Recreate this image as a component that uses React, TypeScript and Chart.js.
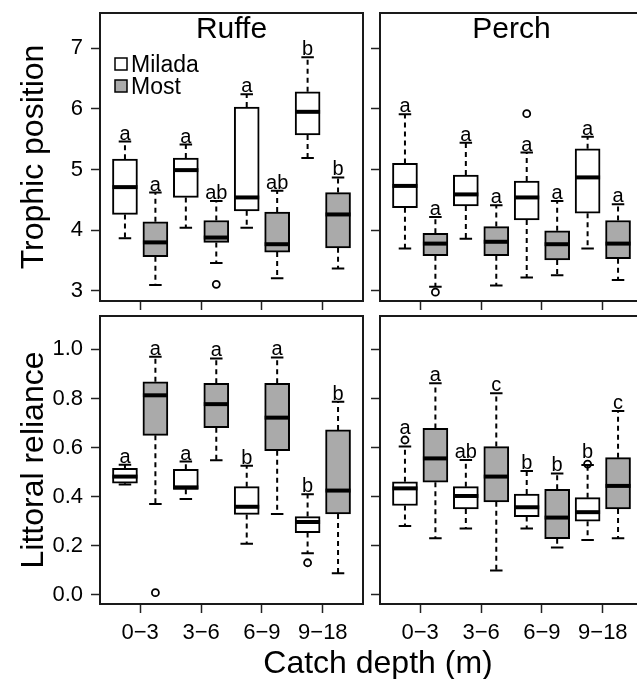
import React, { useEffect, useRef } from 'react';
import { Chart, registerables } from 'chart.js';

Chart.register(...registerables);

const FONT = "'Liberation Sans', Arial, Helvetica, sans-serif";
Chart.defaults.font.family = FONT;

// ---------- categories / ticks ----------
const depthLabels = ['0−3', '3−6', '6−9', '9−18'];
const lakeNames = ['Milada', 'Most'];
const miladaPositions = [1, 3, 5, 7];
const mostPositions = [2, 4, 6, 8];
const depthTickPositions = [1.5, 3.5, 5.5, 7.5];
const xRange = [0.18, 8.82];

const trophicTicks = [3, 4, 5, 6, 7];
const trophicRange = [2.835, 7.577];
const littoralTicks = [0, 0.2, 0.4, 0.6, 0.8, 1.0];
const littoralRange = [-0.037, 1.136];

// ---------- data: [lower whisker, Q1, median, Q3, upper whisker] ----------
// Ruffe – trophic position
const ruffeTrophicMilada = [[3.87, 4.26, 4.71, 5.17, 5.46], [4.04, 4.54, 4.99, 5.19, 5.41], [4.04, 4.32, 4.54, 6.03, 6.24], [5.19, 5.57, 5.95, 6.28, 6.85]];
const ruffeTrophicMost = [[3.10, 3.565, 3.80, 4.14, 4.62], [3.46, 3.80, 3.88, 4.16, 4.48], [3.21, 3.64, 3.77, 4.30, 4.65], [3.37, 3.71, 4.26, 4.62, 4.87]];
const ruffeTrophicMiladaOut = [[], [], [], []];
const ruffeTrophicMostOut = [[], [3.11], [], []];
const ruffeTrophicMiladaLetters = ['a', 'a', 'a', 'b'];
const ruffeTrophicMostLetters = ['a', 'ab', 'ab', 'b'];

// Perch – trophic position
const perchTrophicMilada = [[3.70, 4.37, 4.73, 5.10, 5.91], [3.86, 4.40, 4.59, 4.91, 5.44], [3.22, 4.17, 4.54, 4.81, 5.28], [3.70, 4.28, 4.87, 5.34, 5.54]];
const perchTrophicMost = [[3.07, 3.58, 3.78, 3.95, 4.22], [3.09, 3.58, 3.81, 4.06, 4.41], [3.26, 3.51, 3.77, 3.99, 4.48], [3.18, 3.53, 3.78, 4.16, 4.43]];
const perchTrophicMiladaOut = [[], [], [5.92], []];
const perchTrophicMostOut = [[2.98], [], [], []];
const perchTrophicMiladaLetters = ['a', 'a', 'a', 'a'];
const perchTrophicMostLetters = ['a', 'a', 'a', 'a'];

// Ruffe – littoral reliance
const ruffeLittoralMilada = [[0.45, 0.455, 0.482, 0.516, 0.53], [0.391, 0.430, 0.438, 0.512, 0.543], [0.208, 0.328, 0.359, 0.441, 0.526], [0.170, 0.254, 0.297, 0.319, 0.410]];
const ruffeLittoralMost = [[0.370, 0.650, 0.813, 0.868, 0.970], [0.548, 0.681, 0.777, 0.862, 0.963], [0.330, 0.587, 0.722, 0.862, 0.967], [0.088, 0.330, 0.425, 0.672, 0.787]];
const ruffeLittoralMiladaOut = [[], [], [], [0.131]];
const ruffeLittoralMostOut = [[0.009], [], [], []];
const ruffeLittoralMiladaLetters = ['a', 'a', 'b', 'b'];
const ruffeLittoralMostLetters = ['a', 'a', 'a', 'b'];

// Perch – littoral reliance
const perchLittoralMilada = [[0.281, 0.364, 0.434, 0.461, 0.604], [0.271, 0.350, 0.403, 0.441, 0.549], [0.271, 0.319, 0.357, 0.411, 0.505], [0.224, 0.300, 0.337, 0.396, 0.529]];
const perchLittoralMost = [[0.231, 0.459, 0.556, 0.678, 0.862], [0.099, 0.379, 0.482, 0.604, 0.821], [0.193, 0.229, 0.315, 0.430, 0.495], [0.231, 0.350, 0.444, 0.559, 0.749]];
const perchLittoralMiladaOut = [[0.631], [], [], [0.533]];
const perchLittoralMostOut = [[], [], [], []];
const perchLittoralMiladaLetters = ['a', 'ab', 'b', 'b'];
const perchLittoralMostLetters = ['a', 'c', 'b', 'c'];

const MILADA_FILL = '#ffffff';
const MOST_FILL = '#aaaaaa';
const INK = '#000000';

type PanelProps = {
  left: number; top: number; width: number; height: number;
  padTop: number; padRight: number; yWidth: number; xHeight: number;
  yRange: number[]; yTicks: number[]; yDecimals: number;
  showYLabels: boolean; yTitle?: string; showXLabels: boolean;
  title: string; legend: boolean;
  milada: number[][]; most: number[][];
  miladaOut: number[][]; mostOut: number[][];
  miladaLetters: string[]; mostLetters: string[];
};

function Panel(p: PanelProps) {
  const ref = useRef<HTMLCanvasElement>(null);
  useEffect(() => {
    const canvas = ref.current as HTMLCanvasElement;
    const extras = {
      id: 'boxExtras',
      afterDatasetsDraw(chart: any) {
        const { ctx } = chart;
        const x = chart.scales.x;
        const y = chart.scales.y;
        const span = y.max - y.min;
        const groups = [
          { stats: p.milada, out: p.miladaOut, letters: p.miladaLetters, pos: miladaPositions, meta: chart.getDatasetMeta(0) },
          { stats: p.most, out: p.mostOut, letters: p.mostLetters, pos: mostPositions, meta: chart.getDatasetMeta(1) },
        ];
        ctx.save();
        ctx.strokeStyle = INK;
        ctx.fillStyle = INK;
        groups.forEach((g) => {
          g.stats.forEach((s, i) => {
            const px = x.getPixelForValue(g.pos[i]);
            const half = g.meta.data[i].width / 2;
            const [lo, q1, med, q3, hi] = s;
            const yLo = y.getPixelForValue(lo);
            const yQ1 = y.getPixelForValue(q1);
            const yMed = y.getPixelForValue(med);
            const yQ3 = y.getPixelForValue(q3);
            const yHi = y.getPixelForValue(hi);
            // whiskers
            ctx.lineWidth = 2;
            ctx.setLineDash([5, 4]);
            ctx.beginPath();
            ctx.moveTo(px, yQ3); ctx.lineTo(px, yHi);
            ctx.moveTo(px, yQ1); ctx.lineTo(px, yLo);
            ctx.stroke();
            ctx.setLineDash([]);
            // caps
            ctx.beginPath();
            ctx.moveTo(px - half / 2, yHi); ctx.lineTo(px + half / 2, yHi);
            ctx.moveTo(px - half / 2, yLo); ctx.lineTo(px + half / 2, yLo);
            ctx.stroke();
            // median
            ctx.lineWidth = 4;
            ctx.beginPath();
            ctx.moveTo(px - half, yMed); ctx.lineTo(px + half, yMed);
            ctx.stroke();
            // outliers
            ctx.lineWidth = 1.8;
            g.out[i].forEach((v) => {
              ctx.beginPath();
              ctx.arc(px, y.getPixelForValue(v), 3.5, 0, Math.PI * 2);
              ctx.stroke();
            });
            // significance letter
            let anchor = hi;
            let nearOut = false;
            g.out[i].forEach((v) => {
              if (v > anchor && v - hi < 0.07 * span) { anchor = v; nearOut = true; }
            });
            ctx.font = `20px ${FONT}`;
            ctx.textAlign = 'center';
            ctx.textBaseline = 'alphabetic';
            ctx.fillText(g.letters[i], px, y.getPixelForValue(anchor) - (nearOut ? 6 : 2));
          });
        });
        ctx.restore();
      },
      afterDraw(chart: any) {
        const { ctx, chartArea } = chart;
        ctx.save();
        ctx.strokeStyle = '#1a1a1a';
        ctx.lineWidth = 2;
        ctx.strokeRect(chartArea.left, chartArea.top, chartArea.right - chartArea.left, chartArea.bottom - chartArea.top);
        ctx.fillStyle = INK;
        ctx.font = `30px ${FONT}`;
        ctx.textAlign = 'center';
        ctx.textBaseline = 'alphabetic';
        ctx.fillText(p.title, (chartArea.left + chartArea.right) / 2, chartArea.top + 25);
        if (p.legend) {
          const fills = [MILADA_FILL, MOST_FILL];
          ctx.font = `23px ${FONT}`;
          ctx.textAlign = 'left';
          lakeNames.forEach((name, k) => {
            const lx = chartArea.left + 15;
            const ly = chartArea.top + 45 + k * 22;
            ctx.fillStyle = fills[k];
            ctx.fillRect(lx, ly, 12, 12);
            ctx.strokeStyle = INK;
            ctx.lineWidth = 1.5;
            ctx.strokeRect(lx, ly, 12, 12);
            ctx.fillStyle = INK;
            ctx.fillText(name, lx + 16, ly + 14);
          });
        }
        ctx.restore();
      },
    };

    const gridCfg = { offset: false, drawOnChartArea: false, drawTicks: true, tickLength: 9, tickColor: '#222', tickWidth: 1.5 };
    const noPad = (s: any) => { s.paddingTop = 0; s.paddingBottom = 0; s.paddingLeft = 0; s.paddingRight = 0; };

    const chart = new Chart(canvas, {
      type: 'bar',
      data: {
        datasets: [
          {
            label: lakeNames[0],
            data: p.milada.map((s, i) => ({ x: miladaPositions[i], y: [s[1], s[3]] })) as any,
            backgroundColor: MILADA_FILL, borderColor: INK, borderWidth: 2, borderSkipped: false,
            grouped: false, barThickness: 25,
          },
          {
            label: lakeNames[1],
            data: p.most.map((s, i) => ({ x: mostPositions[i], y: [s[1], s[3]] })) as any,
            backgroundColor: MOST_FILL, borderColor: INK, borderWidth: 2, borderSkipped: false,
            grouped: false, barThickness: 25,
          },
        ],
      },
      options: {
        responsive: false,
        animation: false,
        layout: { padding: { top: p.padTop, right: p.padRight, left: 0, bottom: 0 } },
        plugins: { legend: { display: false }, tooltip: { enabled: false }, title: { display: false } },
        scales: {
          x: {
            type: 'linear', min: xRange[0], max: xRange[1], offset: false,
            grid: gridCfg as any, border: { display: false },
            ticks: {
              display: p.showXLabels, autoSkip: false, maxRotation: 0, minRotation: 0, padding: 7,
              color: INK, font: { size: 22 },
              callback: (_v: any, i: number) => depthLabels[i],
            },
            afterBuildTicks: (s: any) => { s.ticks = depthTickPositions.map((v) => ({ value: v })); },
            afterFit: (s: any) => { s.height = p.xHeight; noPad(s); },
          },
          y: {
            type: 'linear', min: p.yRange[0], max: p.yRange[1],
            grid: gridCfg as any, border: { display: false },
            ticks: {
              display: p.showYLabels, padding: 8, color: INK, font: { size: 22 },
              callback: (v: any) => Number(v).toFixed(p.yDecimals),
            },
            title: {
              display: !!p.yTitle, text: p.yTitle || '', color: INK, font: { size: 32 },
              padding: { top: 15, bottom: 0 },
            },
            afterBuildTicks: (s: any) => { s.ticks = p.yTicks.map((v) => ({ value: v })); },
            afterFit: (s: any) => { s.width = p.yWidth; noPad(s); },
          },
        } as any,
      },
      plugins: [extras],
    } as any);
    return () => chart.destroy();
  }, []);
  return (
    <canvas
      ref={ref}
      width={p.width}
      height={p.height}
      style={{ position: 'absolute', left: p.left, top: p.top, width: p.width, height: p.height }}
    />
  );
}

export default function App() {
  return (
    <div style={{ position: 'fixed', left: 0, top: 0, width: 637, height: 679, overflow: 'hidden', background: '#fff' }}>
      <Panel
        left={0} top={0} width={370} height={320} padTop={13} padRight={7} yWidth={100} xHeight={19}
        yRange={trophicRange} yTicks={trophicTicks} yDecimals={0} showYLabels={true} yTitle="Trophic position"
        showXLabels={false} title="Ruffe" legend={true}
        milada={ruffeTrophicMilada} most={ruffeTrophicMost}
        miladaOut={ruffeTrophicMiladaOut} mostOut={ruffeTrophicMostOut}
        miladaLetters={ruffeTrophicMiladaLetters} mostLetters={ruffeTrophicMostLetters}
      />
      <Panel
        left={360} top={0} width={303} height={320} padTop={13} padRight={20} yWidth={20} xHeight={19}
        yRange={trophicRange} yTicks={trophicTicks} yDecimals={0} showYLabels={false}
        showXLabels={false} title="Perch" legend={false}
        milada={perchTrophicMilada} most={perchTrophicMost}
        miladaOut={perchTrophicMiladaOut} mostOut={perchTrophicMostOut}
        miladaLetters={perchTrophicMiladaLetters} mostLetters={perchTrophicMostLetters}
      />
      <Panel
        left={0} top={300} width={370} height={379} padTop={16} padRight={7} yWidth={100} xHeight={75}
        yRange={littoralRange} yTicks={littoralTicks} yDecimals={1} showYLabels={true} yTitle="Littoral reliance"
        showXLabels={true} title="" legend={false}
        milada={ruffeLittoralMilada} most={ruffeLittoralMost}
        miladaOut={ruffeLittoralMiladaOut} mostOut={ruffeLittoralMostOut}
        miladaLetters={ruffeLittoralMiladaLetters} mostLetters={ruffeLittoralMostLetters}
      />
      <Panel
        left={360} top={300} width={303} height={379} padTop={16} padRight={20} yWidth={20} xHeight={75}
        yRange={littoralRange} yTicks={littoralTicks} yDecimals={1} showYLabels={false}
        showXLabels={true} title="" legend={false}
        milada={perchLittoralMilada} most={perchLittoralMost}
        miladaOut={perchLittoralMiladaOut} mostOut={perchLittoralMostOut}
        miladaLetters={perchLittoralMiladaLetters} mostLetters={perchLittoralMostLetters}
      />
      <div
        style={{
          position: 'absolute', left: 100, top: 646, width: 556, fontSize: 32, lineHeight: '32px',
          textAlign: 'center', fontFamily: FONT, color: INK, whiteSpace: 'nowrap',
        }}
      >
        Catch depth (m)
      </div>
    </div>
  );
}
